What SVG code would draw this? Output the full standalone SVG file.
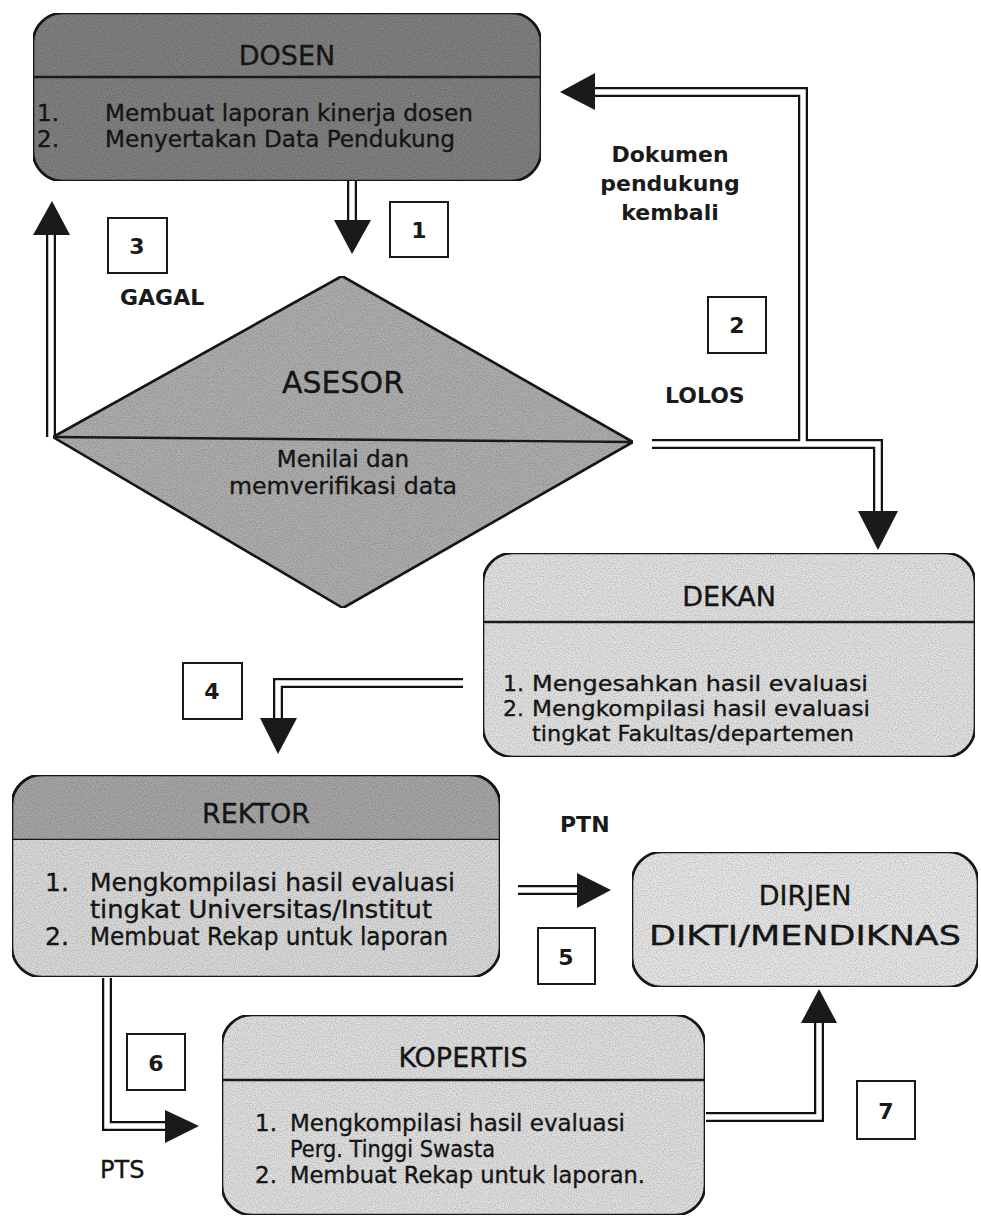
<svg xmlns="http://www.w3.org/2000/svg" width="981" height="1222" viewBox="0 0 981 1222">
<defs>
<filter id="grain" x="0" y="0" width="100%" height="100%">
  <feTurbulence type="fractalNoise" baseFrequency="0.85" numOctaves="1" seed="7" result="noise"/>
  <feColorMatrix in="noise" type="matrix" values="0 0 0 0 0  0 0 0 0 0  0 0 0 0 0  0.9 0 0 0 -0.32" result="dots"/>
  <feComposite in="dots" in2="SourceAlpha" operator="in" result="clip"/>
  <feMerge><feMergeNode in="SourceGraphic"/><feMergeNode in="clip"/></feMerge>
</filter>
</defs>
<style>
.node{stroke:#1a1a1a;stroke-width:2.6}
.g{filter:url(#grain)}
.div{stroke:#1a1a1a;stroke-width:2.4;fill:none}
.t{font-family:"DejaVu Sans",Verdana,sans-serif;fill:#151515;stroke:#151515;stroke-width:0.35}
.title{font-size:27px;text-anchor:middle}
.item{font-size:23px}
.big{font-size:25px}
.mid{font-size:22px}
.lbl{font-family:"DejaVu Sans",Verdana,sans-serif;font-weight:bold;font-size:22px;fill:#1a1a1a}
.num{font-family:"DejaVu Sans",Verdana,sans-serif;font-weight:bold;font-size:22px;fill:#1a1a1a;text-anchor:middle}
.nbox{fill:#fff;stroke:#1a1a1a;stroke-width:2}
.o{fill:none;stroke:#111;stroke-width:10;stroke-linejoin:miter}
.i{fill:none;stroke:#fff;stroke-width:5.5;stroke-linejoin:miter}
.head{fill:#1a1a1a}
</style>

<g id="connectors">
  <g>
    <path class="o" d="M352,181 V221"/>
    <path class="o" d="M51,437 V234"/>
    <path class="o" d="M652,444 H878 V513"/>
    <path class="o" d="M803,444 V92 H594"/>
    <path class="o" d="M463,683 H278 V719"/>
    <path class="o" d="M518,890 H578"/>
    <path class="o" d="M107,978 V1126 H166"/>
    <path class="o" d="M706,1117 H819 V1022"/>
  </g>
  <g>
    <path class="i" d="M352,181 V221"/>
    <path class="i" d="M51,437 V234"/>
    <path class="i" d="M652,444 H878 V513"/>
    <path class="i" d="M803,444 V92 H594"/>
    <path class="i" d="M463,683 H278 V719"/>
    <path class="i" d="M518,890 H578"/>
    <path class="i" d="M107,978 V1126 H166"/>
    <path class="i" d="M706,1117 H819 V1022"/>
  </g>
  <polygon class="head" points="334,220 371,220 352,254"/>
  <polygon class="head" points="33,235 70,235 52,201"/>
  <polygon class="head" points="858,511 898,511 878,550"/>
  <polygon class="head" points="595,73 595,110 560,92"/>
  <polygon class="head" points="260,718 297,718 278,754"/>
  <polygon class="head" points="577,873 577,908 611,890"/>
  <polygon class="head" points="165,1110 165,1143 199,1126"/>
  <polygon class="head" points="801,1023 837,1023 819,989"/>
</g>

<g id="dosen">
  <rect class="node g" x="33" y="13" width="508" height="168" rx="30" fill="#828282"/>
  <line class="div" x1="33" y1="77" x2="541" y2="77"/>
  <text class="t title" x="287" y="65">DOSEN</text>
  <text class="t item" x="37" y="121">1.</text>
  <text class="t item" x="105" y="121" textLength="368" lengthAdjust="spacingAndGlyphs">Membuat laporan kinerja dosen</text>
  <text class="t item" x="37" y="147">2.</text>
  <text class="t item" x="105" y="147" textLength="350" lengthAdjust="spacingAndGlyphs">Menyertakan Data Pendukung</text>
</g>

<g id="asesor">
  <polygon class="node g" points="53,437 342,276 633,442 343,608" fill="#b0b0b0"/>
  <line class="div" x1="53" y1="437" x2="633" y2="442"/>
  <text class="t" x="343" y="393" font-size="30" text-anchor="middle">ASESOR</text>
  <text class="t item" x="343" y="467" text-anchor="middle">Menilai dan</text>
  <text class="t item" x="343" y="494" text-anchor="middle" textLength="228" lengthAdjust="spacingAndGlyphs">memverifikasi data</text>
</g>

<g id="dekan">
  <rect class="node g" x="483" y="553" width="492" height="204" rx="30" fill="#e4e4e4"/>
  <line class="div" x1="483" y1="622" x2="975" y2="622"/>
  <text class="t title" x="729" y="606">DEKAN</text>
  <text class="t mid" x="503" y="691">1.</text>
  <text class="t mid" x="532" y="691" textLength="336" lengthAdjust="spacingAndGlyphs">Mengesahkan hasil evaluasi</text>
  <text class="t mid" x="503" y="716">2.</text>
  <text class="t mid" x="532" y="716" textLength="338" lengthAdjust="spacingAndGlyphs">Mengkompilasi hasil evaluasi</text>
  <text class="t mid" x="532" y="741" textLength="322" lengthAdjust="spacingAndGlyphs">tingkat Fakultas/departemen</text>
</g>

<g id="rektor">
  <rect class="node g" x="12" y="775" width="488" height="202" rx="30" fill="#dcdcdc"/>
  <path class="g" d="M12,840 V805 A30,30 0 0 1 42,775 H470 A30,30 0 0 1 500,805 V840 Z" fill="#a8a8a8" stroke="#1a1a1a" stroke-width="2.6"/>
  <text class="t title" x="256" y="823">REKTOR</text>
  <text class="t big" x="45" y="891">1.</text>
  <text class="t big" x="90" y="891" textLength="365" lengthAdjust="spacingAndGlyphs">Mengkompilasi hasil evaluasi</text>
  <text class="t big" x="90" y="918" textLength="342" lengthAdjust="spacingAndGlyphs">tingkat Universitas/Institut</text>
  <text class="t big" x="45" y="945">2.</text>
  <text class="t big" x="90" y="945" textLength="358" lengthAdjust="spacingAndGlyphs">Membuat Rekap untuk laporan</text>
</g>

<g id="dirjen">
  <rect class="node g" x="632" y="852" width="346" height="135" rx="30" fill="#e8e8e8"/>
  <text class="t title" x="805" y="905" font-size="31">DIRJEN</text>
  <text class="t title" x="805" y="945" font-size="31" textLength="312" lengthAdjust="spacingAndGlyphs">DIKTI/MENDIKNAS</text>
</g>

<g id="kopertis">
  <rect class="node g" x="222" y="1015" width="483" height="200" rx="30" fill="#e2e2e2"/>
  <line class="div" x1="222" y1="1080" x2="705" y2="1080"/>
  <text class="t title" x="463" y="1067">KOPERTIS</text>
  <text class="t item" x="255" y="1131">1.</text>
  <text class="t item" x="290" y="1131" textLength="335" lengthAdjust="spacingAndGlyphs">Mengkompilasi hasil evaluasi</text>
  <text class="t item" x="290" y="1157" textLength="205" lengthAdjust="spacingAndGlyphs">Perg. Tinggi Swasta</text>
  <text class="t item" x="255" y="1183">2.</text>
  <text class="t item" x="290" y="1183" textLength="355" lengthAdjust="spacingAndGlyphs">Membuat Rekap untuk laporan.</text>
</g>

<g id="labels">
  <rect class="nbox" x="390" y="202" width="58" height="55"/>
  <text class="num" x="419" y="238">1</text>
  <rect class="nbox" x="708" y="297" width="58" height="56"/>
  <text class="num" x="737" y="333">2</text>
  <rect class="nbox" x="108" y="218" width="59" height="55"/>
  <text class="num" x="137" y="254">3</text>
  <rect class="nbox" x="183" y="663" width="59" height="56"/>
  <text class="num" x="212" y="699">4</text>
  <rect class="nbox" x="538" y="928" width="57" height="56"/>
  <text class="num" x="566" y="965" font-weight="normal" font-size="25">5</text>
  <rect class="nbox" x="127" y="1034" width="58" height="56"/>
  <text class="num" x="156" y="1071" font-weight="normal" font-size="25">6</text>
  <rect class="nbox" x="857" y="1081" width="58" height="58"/>
  <text class="num" x="886" y="1119" font-weight="normal" font-size="25">7</text>
  <text class="lbl" x="670" y="162" text-anchor="middle" font-size="23">Dokumen</text>
  <text class="lbl" x="670" y="191" text-anchor="middle" font-size="23">pendukung</text>
  <text class="lbl" x="670" y="220" text-anchor="middle" font-size="23">kembali</text>
  <text class="lbl" x="120" y="305">GAGAL</text>
  <text class="lbl" x="665" y="403">LOLOS</text>
  <text class="lbl" x="560" y="832" font-size="21">PTN</text>
  <text class="t" x="100" y="1178" font-size="24">PTS</text>
</g>
</svg>
